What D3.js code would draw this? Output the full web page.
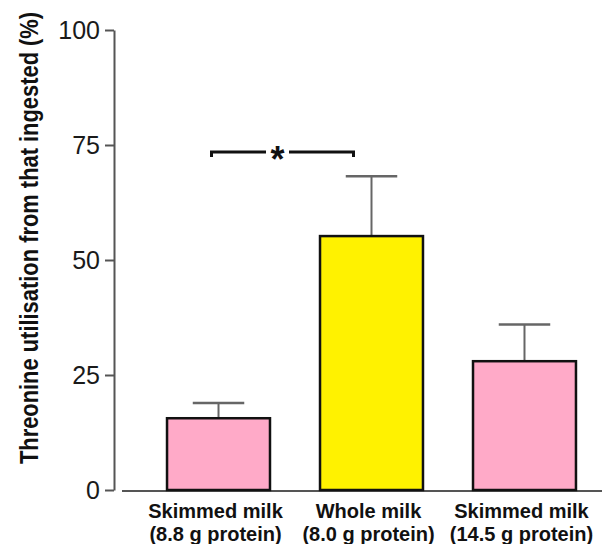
<!DOCTYPE html>
<html>
<head>
<meta charset="utf-8">
<script src="https://cdn.jsdelivr.net/npm/d3@7"></script>
<style>
  html, body { margin: 0; padding: 0; background: #fff; }
  svg { display: block; }
</style>
</head>
<body>
<svg id="chart" width="602" height="544"></svg>
<script>
// ---- data ----
const categories = ["Skimmed milk (8.8 g protein)", "Whole milk (8.0 g protein)", "Skimmed milk (14.5 g protein)"];
const labelLine1 = ["Skimmed milk", "Whole milk", "Skimmed milk"];
const labelLine2 = ["(8.8 g protein)", "(8.0 g protein)", "(14.5 g protein)"];
const means = [15.6, 55.2, 28.0];
const errors = [3.3, 13.0, 8.0];
const barColors = ["#ffaac8", "#fff200", "#ffaac8"];
const yTicks = [0, 25, 50, 75, 100];
const yTitle = "Threonine utilisation from that ingested (%)";
const sigPair = [0, 1];
const sigLevel = 73.5;
const sigLabel = "*";

// ---- chart ----
const svg = d3.select("#chart");
const font = "'Liberation Sans', Arial, sans-serif";

const y = d3.scaleLinear().domain([0, 100]).range([490, 30]);
const x = d3.scaleBand().domain(categories).range([117, 626]).paddingInner(0.327).paddingOuter(0.327);
const bw = x.bandwidth();

// y axis
const yAxis = d3.axisLeft(y).tickValues(yTicks).tickSize(9).tickSizeOuter(0).tickPadding(5);
const gy = svg.append("g").attr("transform", "translate(114,0)").call(yAxis);
gy.select(".domain").attr("stroke", "#555").attr("stroke-width", 2);
gy.selectAll(".tick line").attr("stroke", "#555").attr("stroke-width", 2);
gy.selectAll(".tick text")
  .attr("font-family", font).attr("font-size", 25).attr("fill", "#1a1a1a");

// baseline
svg.append("line")
  .attr("x1", 122).attr("x2", 602)
  .attr("y1", y(0) + 1).attr("y2", y(0) + 1)
  .attr("stroke", "#555").attr("stroke-width", 2);

// error bars
const eg = svg.append("g");
categories.forEach((c, i) => {
  const cx = x(c) + bw / 2;
  eg.append("line").attr("x1", cx).attr("x2", cx)
    .attr("y1", y(means[i])).attr("y2", y(means[i] + errors[i]))
    .attr("stroke", "#666").attr("stroke-width", 2);
  eg.append("line").attr("x1", cx - bw * 0.25).attr("x2", cx + bw * 0.25)
    .attr("y1", y(means[i] + errors[i])).attr("y2", y(means[i] + errors[i]))
    .attr("stroke", "#666").attr("stroke-width", 2.5);
});

// bars
svg.append("g").selectAll("rect").data(categories).join("rect")
  .attr("x", d => x(d))
  .attr("y", (d, i) => y(means[i]))
  .attr("width", bw)
  .attr("height", (d, i) => y(0) - y(means[i]))
  .attr("fill", (d, i) => barColors[i])
  .attr("stroke", "#111")
  .attr("stroke-width", 2.5);

// x labels
const lg = svg.append("g").attr("font-family", font).attr("font-weight", "bold")
  .attr("font-size", 20).attr("fill", "#111").attr("text-anchor", "middle");
categories.forEach((c, i) => {
  const cx = x(c) + bw / 2 - 3;
  lg.append("text").attr("x", cx).attr("y", 518).text(labelLine1[i]);
  lg.append("text").attr("x", cx).attr("y", 541).text(labelLine2[i]);
});

// y title (glyphs widened like the reference)
const t = svg.append("text")
  .attr("transform", "translate(38,238) rotate(-90) scale(1,1.22)")
  .attr("text-anchor", "middle")
  .attr("font-family", font).attr("font-weight", "bold")
  .attr("font-size", 22).attr("fill", "#111")
  .text(yTitle);
const w = t.node().getComputedTextLength();
t.attr("font-size", 22 * 452 / w);

// significance bracket
const xl = x(categories[sigPair[0]]) + bw / 2 - 7;
const xr = x(categories[sigPair[1]]) + bw / 2 - 18;
const ys = y(sigLevel);
const hook = 5;
const xm = (xl + xr) / 2 - 5;
const gap = 11.5;
svg.append("path")
  .attr("d", `M${xl},${ys + hook} L${xl},${ys} L${xm - gap},${ys}`)
  .attr("fill", "none").attr("stroke", "#111").attr("stroke-width", 3);
svg.append("path")
  .attr("d", `M${xm + gap},${ys} L${xr},${ys} L${xr},${ys + hook}`)
  .attr("fill", "none").attr("stroke", "#111").attr("stroke-width", 3);
svg.append("text")
  .attr("x", xm).attr("y", ys + 20)
  .attr("text-anchor", "middle")
  .attr("font-family", font).attr("font-weight", "bold")
  .attr("font-size", 36).attr("fill", "#111")
  .text(sigLabel);
</script>
</body>
</html>
